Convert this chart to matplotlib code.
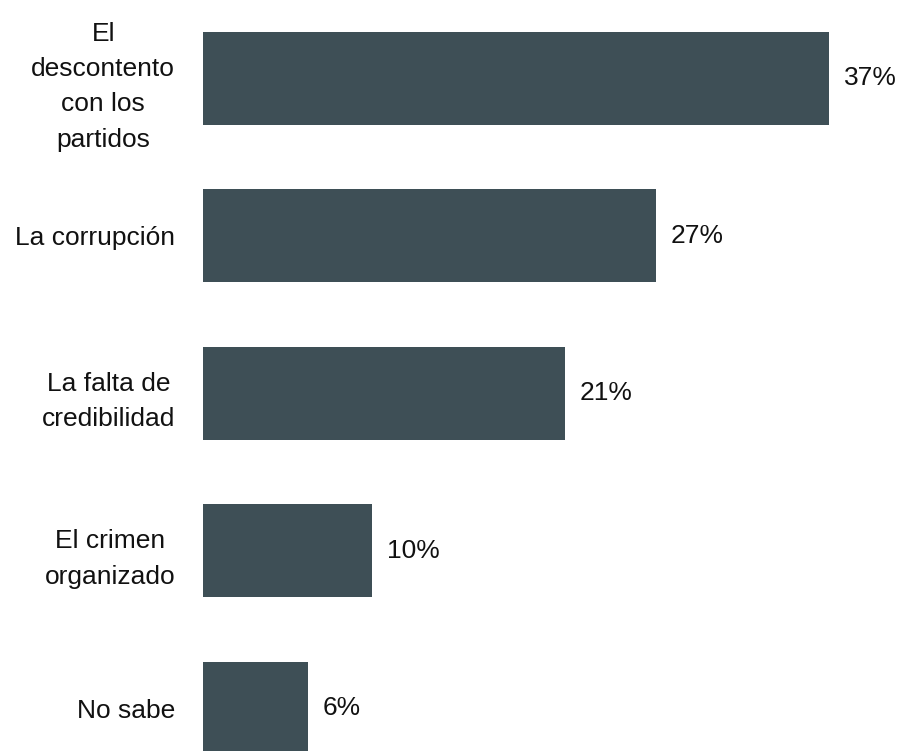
import matplotlib.pyplot as plt
from matplotlib import font_manager

categories = ["El\ndescontento\ncon los\npartidos", "La corrupción",
              "La falta de\ncredibilidad", "El crimen\norganizado", "No sabe"]
values = [37.0, 26.8, 21.4, 10.0, 6.2]
value_labels = ["37%", "27%", "21%", "10%", "6%"]

fams = [f.name for f in font_manager.fontManager.ttflist]
font = "Liberation Sans Narrow" if "Liberation Sans Narrow" in fams else "Liberation Sans"
plt.rcParams['font.family'] = [font, 'DejaVu Sans']

bar_color = "#3e4f56"

fig = plt.figure(figsize=(9.01, 7.51), dpi=100)
ax = fig.add_axes([203 / 901, 0, 698 / 901, 1])

ypos = list(range(len(categories)))
ax.barh(ypos, values, height=0.59, color=bar_color)
ax.set_xlim(0, 41.25)
ax.set_ylim(4.27, -0.498)

for y, v, lab in zip(ypos, values, value_labels):
    ax.annotate(lab, (v, y), xytext=(10.5, 0), textcoords='offset points',
                va='center', ha='left', fontsize=19, color='#111111')

ax.set_yticks(ypos)
ax.set_yticklabels(categories, fontsize=19, multialignment='center',
                   linespacing=1.6, color='#111111')
ax.tick_params(axis='y', length=0, pad=20)
ax.set_xticks([])
for s in ax.spines.values():
    s.set_visible(False)

fig.savefig("out.png", dpi=100)
